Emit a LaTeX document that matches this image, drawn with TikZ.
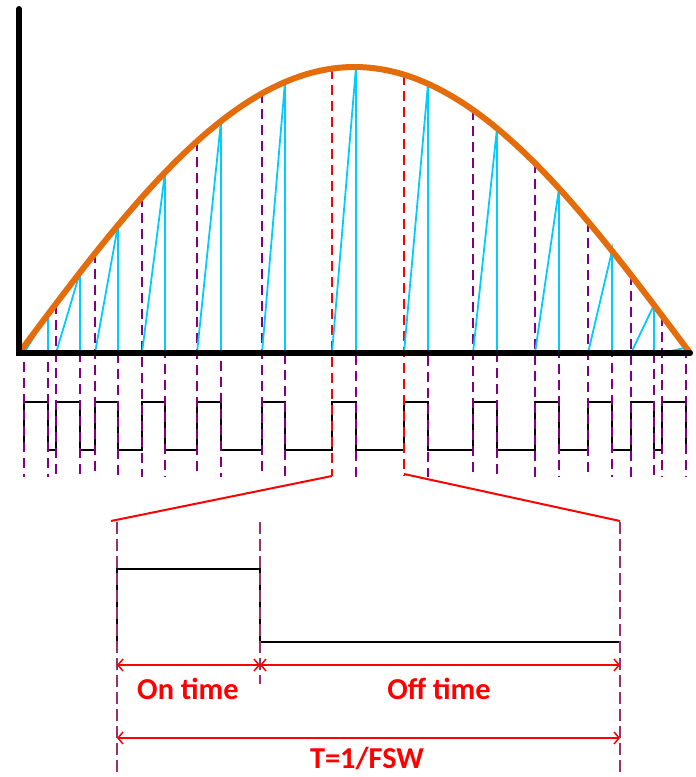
\documentclass[tikz,border=0pt]{standalone}
\usepackage{fontspec}
\setmainfont{Carlito}
\usepackage{tikz}
\usetikzlibrary{arrows.meta}
\definecolor{curveorange}{RGB}{228,108,10}
\definecolor{rampcyan}{RGB}{0,204,255}
\definecolor{edgepurple}{RGB}{128,0,128}
\definecolor{zoompurple}{RGB}{150,50,110}
\definecolor{markred}{RGB}{255,0,0}

\begin{document}
\begin{tikzpicture}[
  x=1bp,y=-1bp,
  declare function={env(\t)=353-286*sin((\t-19)/671*180);},
  axis/.style={line width=6bp,black,line cap=round},
  sinecurve/.style={line width=6bp,curveorange,line cap=round},
  ramp/.style={line width=1.8bp,rampcyan},
  edge/.style={line width=2.2bp,edgepurple,dash pattern=on 10bp off 6bp},
  redge/.style={line width=2bp,markred,dash pattern=on 10bp off 6bp},
  zoomedge/.style={line width=2bp,zoompurple,dash pattern=on 12bp off 5bp},
  pulse/.style={line width=2bp,black},
  link/.style={line width=2bp,markred},
  dimarrow/.style={{Straight Barb[length=5bp,width=12bp]}-{Straight Barb[length=5bp,width=12bp]},line width=1.5bp,markred},
  lbl/.style={text=markred,font=\bfseries\fontsize{30.5}{34}\selectfont,anchor=base,inner sep=0pt}
]
\useasboundingbox (0,0) rectangle (696,777);

% PWM pulse train
\draw[pulse] (24,450) foreach \a/\b in {24/48,56/80,95/118,142/165,197/221,262/285,332/356,404/428,473/497,535/559,588/612,631/654,662/686}
  { -- (\a,450) -- (\a,402) -- (\b,402) -- (\b,450) };

% switching edges
\foreach \e in {24,48,56,80,95,118,142,165,197,221,262,285,356,428,473,497,535,559,588,612,631,654,662,686}
  \draw[edge] (\e,{env(\e)}) -- (\e,477);
\draw[redge] (332,{env(332)}) -- (332,476);
\draw[redge] (404,{env(404)}) -- (404,476);

% ramps
\foreach \a/\b in {24/48,56/80,95/118,142/165,197/221,262/285,332/356,404/428,473/497,535/559,588/612,631/654,662/686}
  \draw[ramp] (\a,353) -- (\b,{env(\b)}) -- (\b,353);

\draw[sinecurve] plot[domain=19:690,samples=120] (\x,{env(\x)});
\draw[axis] (19,9) -- (19,353) -- (690,353);

% zoomed period
\coordinate (zl) at (332,476);
\coordinate (zr) at (404,474);
\coordinate (bl) at (111,521);
\coordinate (br) at (620,521);
\draw[link] (zl) -- (bl);
\draw[link] (zr) -- (br);

\draw[line width=1.5bp,black] (117,642) -- (117,569) -- (260,569) -- (260,642) -- (620,642);
\draw[zoomedge] (117,522) -- (117,777);
\draw[zoomedge] (260,522) -- (260,684);
\draw[zoomedge] (620,522) -- (620,777);

\coordinate (onA) at (117,665);
\coordinate (onB) at (260,665);
\coordinate (offB) at (620,665);
\coordinate (tA) at (117,738);
\coordinate (tB) at (620,738);
\draw[dimarrow] (onA) -- (onB);
\draw[dimarrow] (onB) -- (offB);
\draw[dimarrow] (tA) -- (tB);

\node[lbl] (ontime) at (188,699) {On time};
\node[lbl] (offtime) at (439,699) {Off time};
\node[lbl] (period) at (367,768) {T=1/FSW};
\end{tikzpicture}
\end{document}
